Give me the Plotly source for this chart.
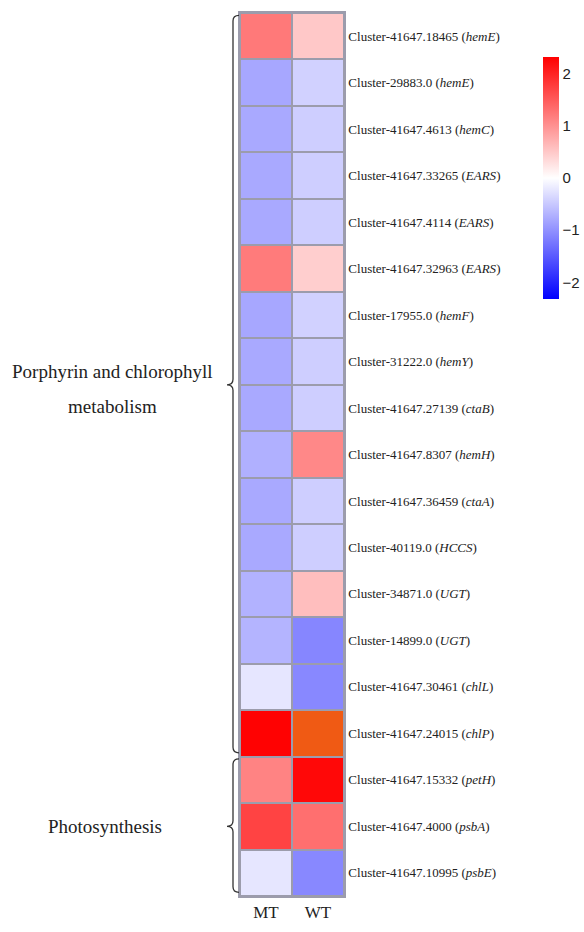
import plotly.graph_objects as go

# ---------------- data ----------------
samples = ["MT", "WT"]
cluster_ids = [
    "Cluster-41647.18465", "Cluster-29883.0", "Cluster-41647.4613", "Cluster-41647.33265",
    "Cluster-41647.4114", "Cluster-41647.32963", "Cluster-17955.0", "Cluster-31222.0",
    "Cluster-41647.27139", "Cluster-41647.8307", "Cluster-41647.36459", "Cluster-40119.0",
    "Cluster-34871.0", "Cluster-14899.0", "Cluster-41647.30461", "Cluster-41647.24015",
    "Cluster-41647.15332", "Cluster-41647.4000", "Cluster-41647.10995",
]
genes = [
    "hemE", "hemE", "hemC", "EARS", "EARS", "EARS", "hemF", "hemY", "ctaB", "hemH",
    "ctaA", "HCCS", "UGT", "UGT", "chlL", "chlP", "petH", "psbA", "psbE",
]
mt_values = [1.22, -0.80, -0.78, -0.78, -0.78, 1.20, -0.80, -0.78, -0.78, -0.72,
             -0.78, -0.78, -0.70, -0.68, -0.23, 2.30, 1.13, 1.71, -0.23]
wt_values = [0.50, -0.42, -0.45, -0.45, -0.45, 0.45, -0.42, -0.45, -0.45, 1.08,
             -0.45, -0.45, 0.59, -1.10, -1.08, 2.60, 2.25, 1.31, -1.08]
groups = [
    (["Porphyrin and chlorophyll", "metabolism"], 0, 15),
    (["Photosynthesis"], 16, 18),
]
zlim = 2.32
cbar_ticks = [-2, -1, 0, 1, 2]

# ---------------- figure ----------------
rows = list(range(len(cluster_ids)))
z = [[m, w] for m, w in zip(mt_values, wt_values)]
z_over = [[v if v > zlim else None for v in r] for r in z]
ticktext = [f"{c} (<i>{g}</i>)" for c, g in zip(cluster_ids, genes)]

W, H = 584, 932
ml, mr, mt_, mb = 240, 240, 13, 36
pw = W - ml - mr
ph = H - mt_ - mb

fig = go.Figure()
fig.add_trace(go.Heatmap(
    z=z, x=samples, y=rows, zmin=-zlim, zmax=zlim,
    colorscale=[[0, "rgb(0,0,255)"], [0.5, "rgb(255,255,255)"], [1, "rgb(255,0,0)"]],
    xgap=2, ygap=2,
    colorbar=dict(
        x=(543 - ml) / pw, xanchor="left", y=(H - mb - 178) / ph, yanchor="middle",
        thickness=16, thicknessmode="pixels", len=242, lenmode="pixels",
        outlinewidth=0, ticks="", tickvals=cbar_ticks, xpad=0, ypad=0,
        ticktext=[str(t).replace("-", "\u2212") for t in cbar_ticks],
        tickfont=dict(family="Liberation Sans, Arial", size=15, color="#222"),
    ),
))
fig.add_trace(go.Heatmap(
    z=z_over, x=samples, y=rows, xgap=2, ygap=2, showscale=False,
    colorscale=[[0, "rgb(240,90,20)"], [1, "rgb(240,90,20)"]], hoverinfo="skip",
))

shapes = []
annotations = []
x_line = (233 - ml) / pw
x_end = (239 - ml) / pw
x_tip = (227 - ml) / pw
for labels, r0, r1 in groups:
    yt = r0 - 0.45
    yb = r1 + 0.42
    ym = (r0 + r1) / 2
    d = 0.12
    path = (f"M {x_end},{yt} Q {x_line},{yt} {x_line},{yt + d} "
            f"L {x_line},{ym - d} Q {x_line},{ym} {x_tip},{ym} "
            f"Q {x_line},{ym} {x_line},{ym + d} "
            f"L {x_line},{yb - d} Q {x_line},{yb} {x_end},{yb}")
    shapes.append(dict(type="path", path=path, xref="paper", yref="y",
                       line=dict(color="#333", width=1.3)))
    n = len(labels)
    for i, lab in enumerate(labels):
        shift = 0 if n == 1 else (13 if i == 0 else -22)
        annotations.append(dict(
            text=lab, xref="paper", yref="y", x=(113 - ml) / pw if n > 1 else (105 - ml) / pw,
            y=ym, yshift=shift, showarrow=False, xanchor="center", yanchor="middle",
            font=dict(family="Liberation Serif, Times New Roman", size=19, color="#222"),
        ))

fig.update_layout(
    width=W, height=H, margin=dict(l=ml, r=mr, t=mt_, b=mb, autoexpand=False),
    paper_bgcolor="white", plot_bgcolor="#9c9cac",
    shapes=shapes, annotations=annotations,
    xaxis=dict(showgrid=False, zeroline=False, ticks="", showline=True, mirror=True,
               linecolor="#9c9cac", linewidth=1.5, automargin=False,
               tickfont=dict(family="Liberation Serif, Times New Roman", size=17, color="#222")),
    yaxis=dict(tickmode="array", tickvals=rows, ticktext=ticktext, side="right",
               range=[len(rows) - 0.5, -0.5], showgrid=False, zeroline=False, ticks="",
               showline=True, mirror=True, linecolor="#9c9cac", linewidth=1.5, automargin=False,
               tickfont=dict(family="Liberation Serif, Times New Roman", size=13, color="#222")),
)

fig.write_html("out.html")
